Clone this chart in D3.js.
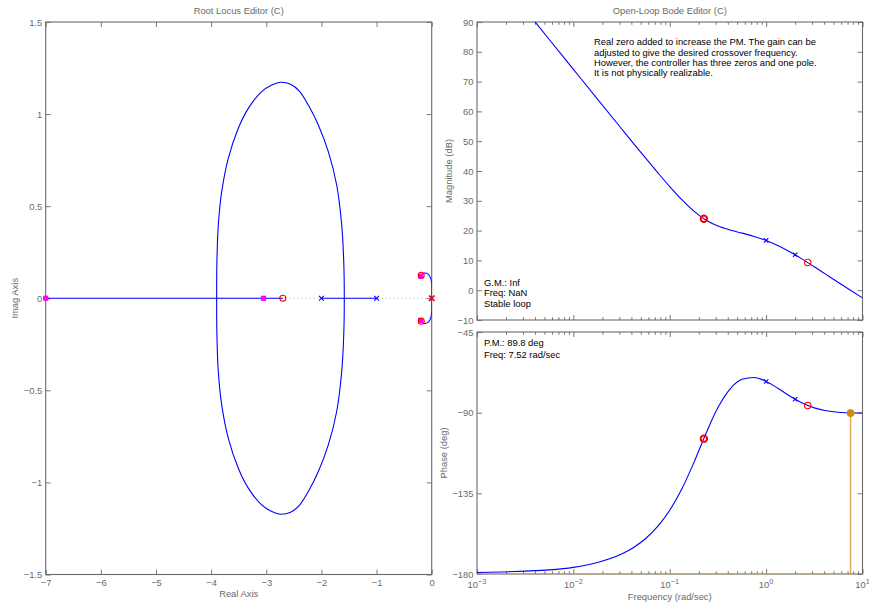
<!DOCTYPE html>
<html>
<head>
<meta charset="utf-8">
<script src="https://cdn.jsdelivr.net/npm/d3@7"></script>
<style>
  html, body { margin: 0; padding: 0; background: #fff; }
  svg { display: block; font-family: "Liberation Sans", Arial, Helvetica, sans-serif; }
</style>
</head>
<body>
<svg id="chart" width="869" height="606"></svg>
<script>
// ---------------- Root locus data ----------------
const rlXTicks = [-7, -6, -5, -4, -3, -2, -1, 0];
const rlYTicks = [-1.5, -1, -0.5, 0, 0.5, 1, 1.5];

// real-axis branches of the locus
const locusSegFrom = [-7.5, -2];
const locusSegTo = [-2.7, -1];

// upper half of the loop leaving the real axis between the poles at -1 and -2
const loopRe = [-3.90, -3.895, -3.870, -3.808, -3.689, -3.507, -3.326, -3.083, -2.900, -2.740,
                -2.560, -2.400, -2.230, -2.056, -1.875, -1.723, -1.632, -1.595, -1.585];
const loopIm = [0, 0.20, 0.398, 0.579, 0.760, 0.923, 1.031, 1.122, 1.158, 1.173,
                1.162, 1.125, 1.045, 0.941, 0.796, 0.615, 0.398, 0.20, 0];

// upper half of the branch from the double integrator to the complex zero
const originArcRe = [0, 0.003, 0.0, -0.018, -0.062, -0.134, -0.19];
const originArcIm = [0, 0.030, 0.072, 0.108, 0.130, 0.137, 0.125];

const plantPoleRe = [0, -1, -2];
const plantPoleIm = [0, 0, 0];
const compPoleRe = [0];
const compPoleIm = [0];
const compZeroRe = [-2.7, -0.19, -0.19];
const compZeroIm = [0, 0.125, -0.125];
const clPoleRe = [-7, -3.05, -0.20, -0.20];
const clPoleIm = [0, 0, 0.12, -0.12];

// ---------------- Bode data ----------------
const freq = [0.001, 0.001778, 0.003162, 0.005623, 0.01, 0.01778, 0.03162, 0.04217, 0.05623,
              0.07499, 0.1, 0.1334, 0.1778, 0.2371, 0.3162, 0.4217, 0.5623, 0.7499, 1,
              1.334, 1.778, 2.371, 3.162, 4.217, 5.623, 7.499, 10];
const magDb = [114.1, 104.1, 94.1, 84.12, 74.12, 64.13, 54.17, 49.21, 44.29,
               39.45, 34.75, 30.36, 26.53, 23.56, 21.55, 20.22, 19.16, 18.05, 16.69,
               14.95, 12.84, 10.43, 7.86, 5.22, 2.59, 0.00, -2.57];
const phaseDeg = [-179.2, -178.9, -178.4, -177.7, -176.3, -173.6, -168.90, -165.17, -160.18,
                  -153.46, -144.46, -132.61, -117.88, -101.73, -87.18, -76.82, -71.41, -70.38, -72.55,
                  -76.47, -80.86, -84.65, -87.34, -88.95, -89.77, -90.10, -90.21];

const freqTickExp = [-3, -2, -1, 0, 1];
const magTicks = [-10, 0, 10, 20, 30, 40, 50, 60, 70, 80, 90];
const phaseTicks = [-180, -135, -90, -45];

// compensator zeros (complex pair, real) and plant poles on the Bode curves
const compZeroFreq = [0.226, 2.7];
const compZeroMag = [24.0, 9.3];
const compZeroPhase = [-104.5, -86.0];
const compZeroBold = [true, false];
const plantPoleFreq = [1, 2];
const plantPoleMag = [16.7, 11.9];
const plantPolePhase = [-72.6, -82.5];

// phase margin
const pmFreq = 7.52;
const pmPhase = -90.2;

const noteLines = [
  "Real zero added to increase the PM. The gain can be",
  "adjusted to give the desired crossover frequency.",
  "However, the controller has three zeros and one pole.",
  "It is not physically realizable."
];
const gmLines = ["G.M.: Inf", "Freq: NaN", "Stable loop"];
const pmLines = ["P.M.: 89.8 deg", "Freq: 7.52 rad/sec"];

// ---------------- drawing ----------------
const svg = d3.select("#chart");
const AXIS = "#6a6a6a";
const LABEL = "#6a6a6a";
const BLUE = "#0000ff";
const RED = "#ff0000";
const MAGENTA = "#ff00ff";
const ORANGE = "#d08a10";
const FS = 9.4;
const minus = v => (v < 0 ? "\u2212" + Math.abs(v) : String(v));

const rl = { left: 45.7, right: 431.7, top: 22, bottom: 574.5 };
const bd = { left: 477, right: 862.5, magTop: 22, magBottom: 320, phTop: 332, phBottom: 574 };

const rlX = d3.scaleLinear().domain([-7, 0]).range([rl.left, rl.right]);
const rlY = d3.scaleLinear().domain([-1.5, 1.5]).range([rl.bottom, rl.top]);
const fX = d3.scaleLog().domain([1e-3, 10]).range([bd.left, bd.right]);
const magY = d3.scaleLinear().domain([-10, 90]).range([bd.magBottom, bd.magTop]);
const phY = d3.scaleLinear().domain([-180, -45]).range([bd.phBottom, bd.phTop]);

const defs = svg.append("defs");
function clip(id, x0, y0, x1, y1) {
  defs.append("clipPath").attr("id", id).append("rect")
    .attr("x", x0).attr("y", y0).attr("width", x1 - x0).attr("height", y1 - y0);
  return "url(#" + id + ")";
}
const rlClip = clip("rlclip", rl.left, rl.top, rl.right, rl.bottom);
const magClip = clip("magclip", bd.left, bd.magTop, bd.right, bd.magBottom);
const phClip = clip("phclip", bd.left, bd.phTop, bd.right, bd.phBottom);

function styleAxis(g, showText) {
  g.select(".domain").remove();
  g.selectAll(".tick line").attr("stroke", AXIS).attr("stroke-width", 0.9);
  g.selectAll(".tick text").attr("fill", LABEL).attr("font-size", FS)
    .attr("font-family", "Liberation Sans, Arial, sans-serif");
  if (!showText) g.selectAll(".tick text").remove();
}

function frame(x0, y0, x1, y1) {
  svg.append("rect").attr("x", x0).attr("y", y0).attr("width", x1 - x0).attr("height", y1 - y0)
    .attr("fill", "none").attr("stroke", AXIS).attr("stroke-width", 1.1);
}

function linearAxes(xs, ys, xt, yt, box, xFmt, yFmt) {
  const T = 5;
  svg.append("g").attr("transform", `translate(0,${box.bottom})`)
    .call(d3.axisBottom(xs).tickValues(xt).tickSize(-T).tickPadding(5).tickFormat(xFmt))
    .call(g => styleAxis(g, xFmt !== null));
  svg.append("g").attr("transform", `translate(0,${box.top})`)
    .call(d3.axisTop(xs).tickValues(xt).tickSize(-T).tickFormat(""))
    .call(g => styleAxis(g, false));
  svg.append("g").attr("transform", `translate(${box.left},0)`)
    .call(d3.axisLeft(ys).tickValues(yt).tickSize(-T).tickPadding(3.5).tickFormat(yFmt))
    .call(g => styleAxis(g, true));
  svg.append("g").attr("transform", `translate(${box.right},0)`)
    .call(d3.axisRight(ys).tickValues(yt).tickSize(-T).tickFormat(""))
    .call(g => styleAxis(g, false));
}

function xMark(g, x, y, r, color, w) {
  g.append("path")
    .attr("d", `M${x - r},${y - r}L${x + r},${y + r}M${x - r},${y + r}L${x + r},${y - r}`)
    .attr("stroke", color).attr("stroke-width", w).attr("fill", "none");
}

// ===== Root locus panel =====
frame(rl.left, rl.top, rl.right, rl.bottom);
linearAxes(rlX, rlY, rlXTicks, rlYTicks, rl, minus, minus);

const rlG = svg.append("g").attr("clip-path", rlClip);

// dotted real axis
rlG.append("line")
  .attr("x1", rlX(-7)).attr("x2", rlX(0)).attr("y1", rlY(0)).attr("y2", rlY(0))
  .attr("stroke", "#a8a8a8").attr("stroke-width", 1).attr("stroke-dasharray", "1,3");

// real-axis branches
locusSegFrom.forEach((a, i) => {
  rlG.append("line")
    .attr("x1", rlX(a)).attr("x2", rlX(locusSegTo[i])).attr("y1", rlY(0)).attr("y2", rlY(0))
    .attr("stroke", BLUE).attr("stroke-width", 1.1);
});

// complex branches (upper half and its conjugate)
const cLine = d3.line().x(d => rlX(d[0])).y(d => rlY(d[1])).curve(d3.curveCatmullRom.alpha(0.5));
const loopPts = loopRe.map((r, i) => [r, loopIm[i]]);
const loopClosed = loopPts.concat(loopPts.slice(0, -1).reverse().map(p => [p[0], -p[1]]));
rlG.append("path").attr("d", cLine(loopClosed))
  .attr("fill", "none").attr("stroke", BLUE).attr("stroke-width", 1.1);

const arcPts = originArcRe.map((r, i) => [r, originArcIm[i]]);
const arcFull = arcPts.slice().reverse().concat(arcPts.slice(1).map(p => [p[0], -p[1]]));
rlG.append("path").attr("d", cLine(arcFull))
  .attr("fill", "none").attr("stroke", BLUE).attr("stroke-width", 1.1);

// markers
const rlMarks = svg.append("g");
plantPoleRe.forEach((r, i) => xMark(rlMarks, rlX(r), rlY(plantPoleIm[i]), 2.4, BLUE, 1.1));
compPoleRe.forEach((r, i) => xMark(rlMarks, rlX(r), rlY(compPoleIm[i]), 2.8, RED, 1.5));
clPoleRe.forEach((r, i) => {
  rlMarks.append("rect")
    .attr("x", rlX(r) - 2.6).attr("y", rlY(clPoleIm[i]) - 2.6).attr("width", 5.2).attr("height", 5.2)
    .attr("fill", MAGENTA);
});
compZeroRe.forEach((r, i) => {
  rlMarks.append("circle").attr("cx", rlX(r)).attr("cy", rlY(compZeroIm[i])).attr("r", 3)
    .attr("fill", "none").attr("stroke", RED).attr("stroke-width", 1.1);
});

// labels
svg.append("text").attr("x", (rl.left + rl.right) / 2).attr("y", 13.5).attr("text-anchor", "middle")
  .attr("font-size", FS).attr("fill", LABEL).text("Root Locus Editor (C)");
svg.append("text").attr("x", (rl.left + rl.right) / 2).attr("y", 597).attr("text-anchor", "middle")
  .attr("font-size", FS).attr("fill", LABEL).text("Real Axis");
svg.append("text").attr("transform", `translate(18,${(rl.top + rl.bottom) / 2}) rotate(-90)`)
  .attr("text-anchor", "middle").attr("font-size", FS).attr("fill", LABEL).text("Imag Axis");

// ===== Bode panels =====
const majorFreqs = freqTickExp.map(e => Math.pow(10, e));
const minorFreqs = [];
freqTickExp.slice(0, -1).forEach(e => {
  for (let m = 2; m <= 9; m++) minorFreqs.push(m * Math.pow(10, e));
});

function bodePanel(ys, yt, top, bottom, labelX) {
  frame(bd.left, top, bd.right, bottom);
  const box = { left: bd.left, right: bd.right, top: top, bottom: bottom };
  linearAxes(fX, ys, majorFreqs, yt, box, labelX ? (() => "") : null, minus);
  // minor log ticks on top and bottom
  svg.append("g").attr("transform", `translate(0,${bottom})`)
    .call(d3.axisBottom(fX).tickValues(minorFreqs).tickSize(-2.8).tickFormat(""))
    .call(g => styleAxis(g, false));
  svg.append("g").attr("transform", `translate(0,${top})`)
    .call(d3.axisTop(fX).tickValues(minorFreqs).tickSize(-2.8).tickFormat(""))
    .call(g => styleAxis(g, false));
}

bodePanel(magY, magTicks, bd.magTop, bd.magBottom, false);
bodePanel(phY, phaseTicks, bd.phTop, bd.phBottom, true);

// frequency tick labels with superscript exponents
const fLab = svg.append("g");
freqTickExp.forEach(e => {
  const t = fLab.append("text").attr("x", fX(Math.pow(10, e))).attr("y", 588)
    .attr("text-anchor", "middle").attr("font-size", FS).attr("fill", LABEL);
  t.append("tspan").text("10");
  t.append("tspan").attr("dy", -4.5).attr("font-size", 7.4).text(minus(e));
});

// magnitude curve
const magLine = d3.line().x((d, i) => fX(freq[i])).y(d => magY(d)).curve(d3.curveMonotoneX);
svg.append("path").attr("d", magLine(magDb)).attr("clip-path", magClip)
  .attr("fill", "none").attr("stroke", BLUE).attr("stroke-width", 1.1);

// phase curve
const phLine = d3.line().x((d, i) => fX(freq[i])).y(d => phY(d)).curve(d3.curveMonotoneX);

// stability margin lines
svg.append("line").attr("x1", fX(1e-3)).attr("x2", fX(10)).attr("y1", phY(-180)).attr("y2", phY(-180))
  .attr("stroke", "#e0a040").attr("stroke-width", 1.2).attr("stroke-dasharray", "5,3,1,3");
svg.append("line").attr("x1", fX(pmFreq)).attr("x2", fX(pmFreq)).attr("y1", phY(pmPhase)).attr("y2", phY(-180))
  .attr("stroke", "#e3ac5a").attr("stroke-width", 1.5);

svg.append("path").attr("d", phLine(phaseDeg)).attr("clip-path", phClip)
  .attr("fill", "none").attr("stroke", BLUE).attr("stroke-width", 1.1);

svg.append("circle").attr("cx", fX(pmFreq)).attr("cy", phY(pmPhase)).attr("r", 3.6)
  .attr("fill", ORANGE).attr("stroke", ORANGE).attr("stroke-width", 0.8);

// Bode markers
const bm = svg.append("g");
plantPoleFreq.forEach((f, i) => {
  xMark(bm, fX(f), magY(plantPoleMag[i]), 2.2, BLUE, 1.1);
  xMark(bm, fX(f), phY(plantPolePhase[i]), 2.2, BLUE, 1.1);
});
compZeroFreq.forEach((f, i) => {
  const w = compZeroBold[i] ? 2 : 1.1;
  bm.append("circle").attr("cx", fX(f)).attr("cy", magY(compZeroMag[i])).attr("r", 3.2)
    .attr("fill", "none").attr("stroke", RED).attr("stroke-width", w);
  bm.append("circle").attr("cx", fX(f)).attr("cy", phY(compZeroPhase[i])).attr("r", 3.2)
    .attr("fill", "none").attr("stroke", RED).attr("stroke-width", w);
});

// titles and axis labels
const bMid = (bd.left + bd.right) / 2;
svg.append("text").attr("x", bMid).attr("y", 13.5).attr("text-anchor", "middle")
  .attr("font-size", FS).attr("fill", LABEL).text("Open-Loop Bode Editor (C)");
svg.append("text").attr("x", bMid).attr("y", 600).attr("text-anchor", "middle")
  .attr("font-size", FS).attr("fill", LABEL).text("Frequency (rad/sec)");
svg.append("text").attr("transform", `translate(452,${(bd.magTop + bd.magBottom) / 2}) rotate(-90)`)
  .attr("text-anchor", "middle").attr("font-size", FS).attr("fill", LABEL).text("Magnitude (dB)");
svg.append("text").attr("transform", `translate(447,${(bd.phTop + bd.phBottom) / 2}) rotate(-90)`)
  .attr("text-anchor", "middle").attr("font-size", FS).attr("fill", LABEL).text("Phase (deg)");

// annotation and margin readouts
noteLines.forEach((s, i) => {
  svg.append("text").attr("x", 594).attr("y", 45.2 + i * 10.4)
    .attr("font-size", FS).attr("fill", "#000").text(s);
});
gmLines.forEach((s, i) => {
  svg.append("text").attr("x", 484).attr("y", 286 + i * 10.3)
    .attr("font-size", FS).attr("fill", "#000").text(s);
});
pmLines.forEach((s, i) => {
  svg.append("text").attr("x", 484).attr("y", 346 + i * 12)
    .attr("font-size", FS).attr("fill", "#000").text(s);
});
</script>
</body>
</html>
